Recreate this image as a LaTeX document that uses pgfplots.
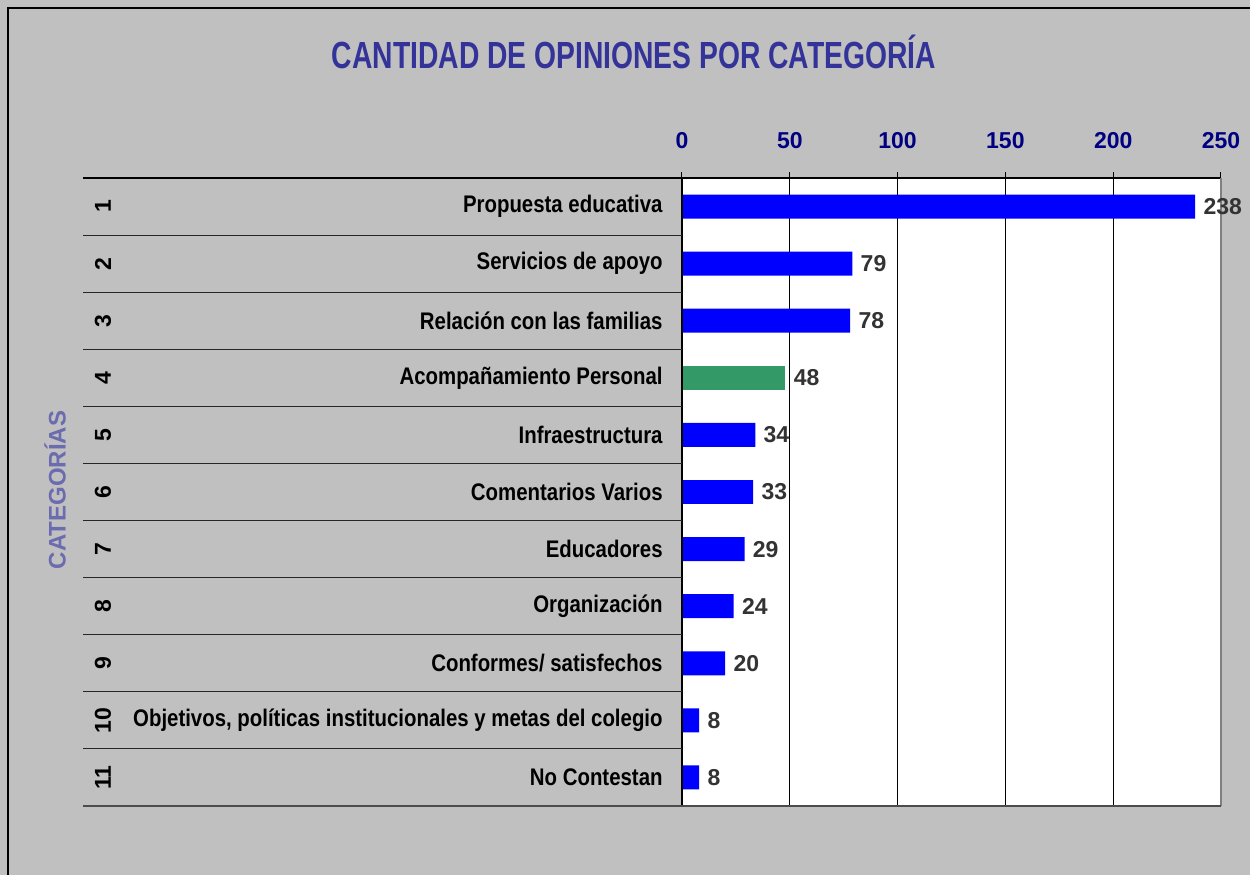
\documentclass[border=0pt]{standalone}
\usepackage{fontspec}
\setmainfont{Liberation Sans}
\newfontfamily\narrowsans{Liberation Sans}[FakeStretch=0.85]
\usepackage{pgfplots}
\pgfplotsset{compat=1.18}
\usepackage{pgfplotstable}

\definecolor{bggray}{HTML}{C0C0C0}
\definecolor{titleblue}{HTML}{333399}
\definecolor{ticknavy}{HTML}{000080}
\definecolor{axlabel}{HTML}{6B6BAF}
\definecolor{valgray}{HTML}{333333}
\definecolor{barblue}{HTML}{0000FF}
\definecolor{bargreen}{HTML}{339966}

% opiniones por categoria (la 4 va en verde)
\pgfplotstableread{
cat val
1 238
2 79
3 78
5 34
6 33
7 29
8 24
9 20
10 8
11 8
}\bluedata
\pgfplotstableread{
cat val
4 48
}\greendata

\begin{document}
\begin{tikzpicture}
\fill[bggray] (0,0) rectangle (625pt,437.5pt);
\useasboundingbox (0,0) rectangle (625pt,437.5pt);
\draw[black, line width=1pt] (4pt,0) -- (4pt,433.5pt) -- (625pt,433.5pt);
\node[font=\narrowsans\bfseries\fontsize{17.5}{20}\selectfont, text=titleblue, xscale=0.95, yscale=1.08]
  at (317pt,411.5pt) {CANTIDAD DE OPINIONES POR CATEGORÍA};
\node[rotate=90, font=\bfseries\fontsize{12}{14}\selectfont, text=axlabel]
  at (27.5pt,192.5pt) {CATEGORÍAS};

\begin{axis}[
  at={(341pt,34.5pt)}, anchor=south west,
  width=269.5pt, height=314pt, scale only axis,
  xbar, bar width=0.42, bar shift=0pt,
  xmin=0, xmax=250, ymin=0.5, ymax=11.5, y dir=reverse,
  /pgf/number format/assume math mode=true,
  xtick={0,50,...,250}, xtick pos=right, xticklabel pos=right,
  tick align=outside, major tick length=3pt,
  x tick style={black, line width=0.5pt},
  xmajorgrids, grid style={black, line width=0.5pt},
  ytick={1,...,11},
  yticklabels={Propuesta educativa, Servicios de apoyo, Relación con las familias,
    Acompañamiento Personal, Infraestructura, Comentarios Varios, Educadores,
    Organización, Conformes/ satisfechos,
    {Objetivos, políticas institucionales y metas del colegio}, No Contestan},
  ytick style={draw=none},
  axis line style={draw=none},
  axis background/.style={fill=white},
  clip=false,
  xticklabel style={font=\bfseries\fontsize{11.5}{14}\selectfont, text=ticknavy, yshift=8pt},
  yticklabel style={font=\narrowsans\bfseries\fontsize{12}{14}\selectfont, text=black,
    anchor=east, inner sep=0pt, xshift=-6.5pt},
  nodes near coords,
  nodes near coords style={font=\bfseries\fontsize{11.5}{14}\selectfont,
    text=valgray, anchor=west, inner sep=0pt, xshift=4pt},
]
\addplot[fill=barblue, draw=none] table[x=val, y=cat] {\bluedata};
\addplot[fill=bargreen, draw=none] table[x=val, y=cat] {\greendata};

% marco y lineas de separacion de categorias
\draw[black, line width=0.6pt] (axis description cs:0,0) -- (axis description cs:0,1);
\draw[black, line width=0.6pt] ([xshift=-299.5pt]axis description cs:0,1) -- (axis description cs:1,1);
\draw[gray, line width=0.8pt] (axis description cs:1,1) -- (axis description cs:1,0);
\draw[black!70, line width=0.8pt] ([xshift=-299.5pt]axis description cs:0,0) -- (axis description cs:1,0);
\pgfplotsinvokeforeach{1,...,10}{
  \draw[black!85, line width=0.5pt] ([xshift=-299.5pt]axis description cs:0,#1/11) -- (axis description cs:0,#1/11);
}
\pgfplotsinvokeforeach{1,...,11}{
  \node[rotate=90, font=\bfseries\fontsize{11.5}{14}\selectfont]
    at ([xshift=-289.5pt]axis cs:0,#1) {#1};
}
\end{axis}
\end{tikzpicture}
\end{document}
